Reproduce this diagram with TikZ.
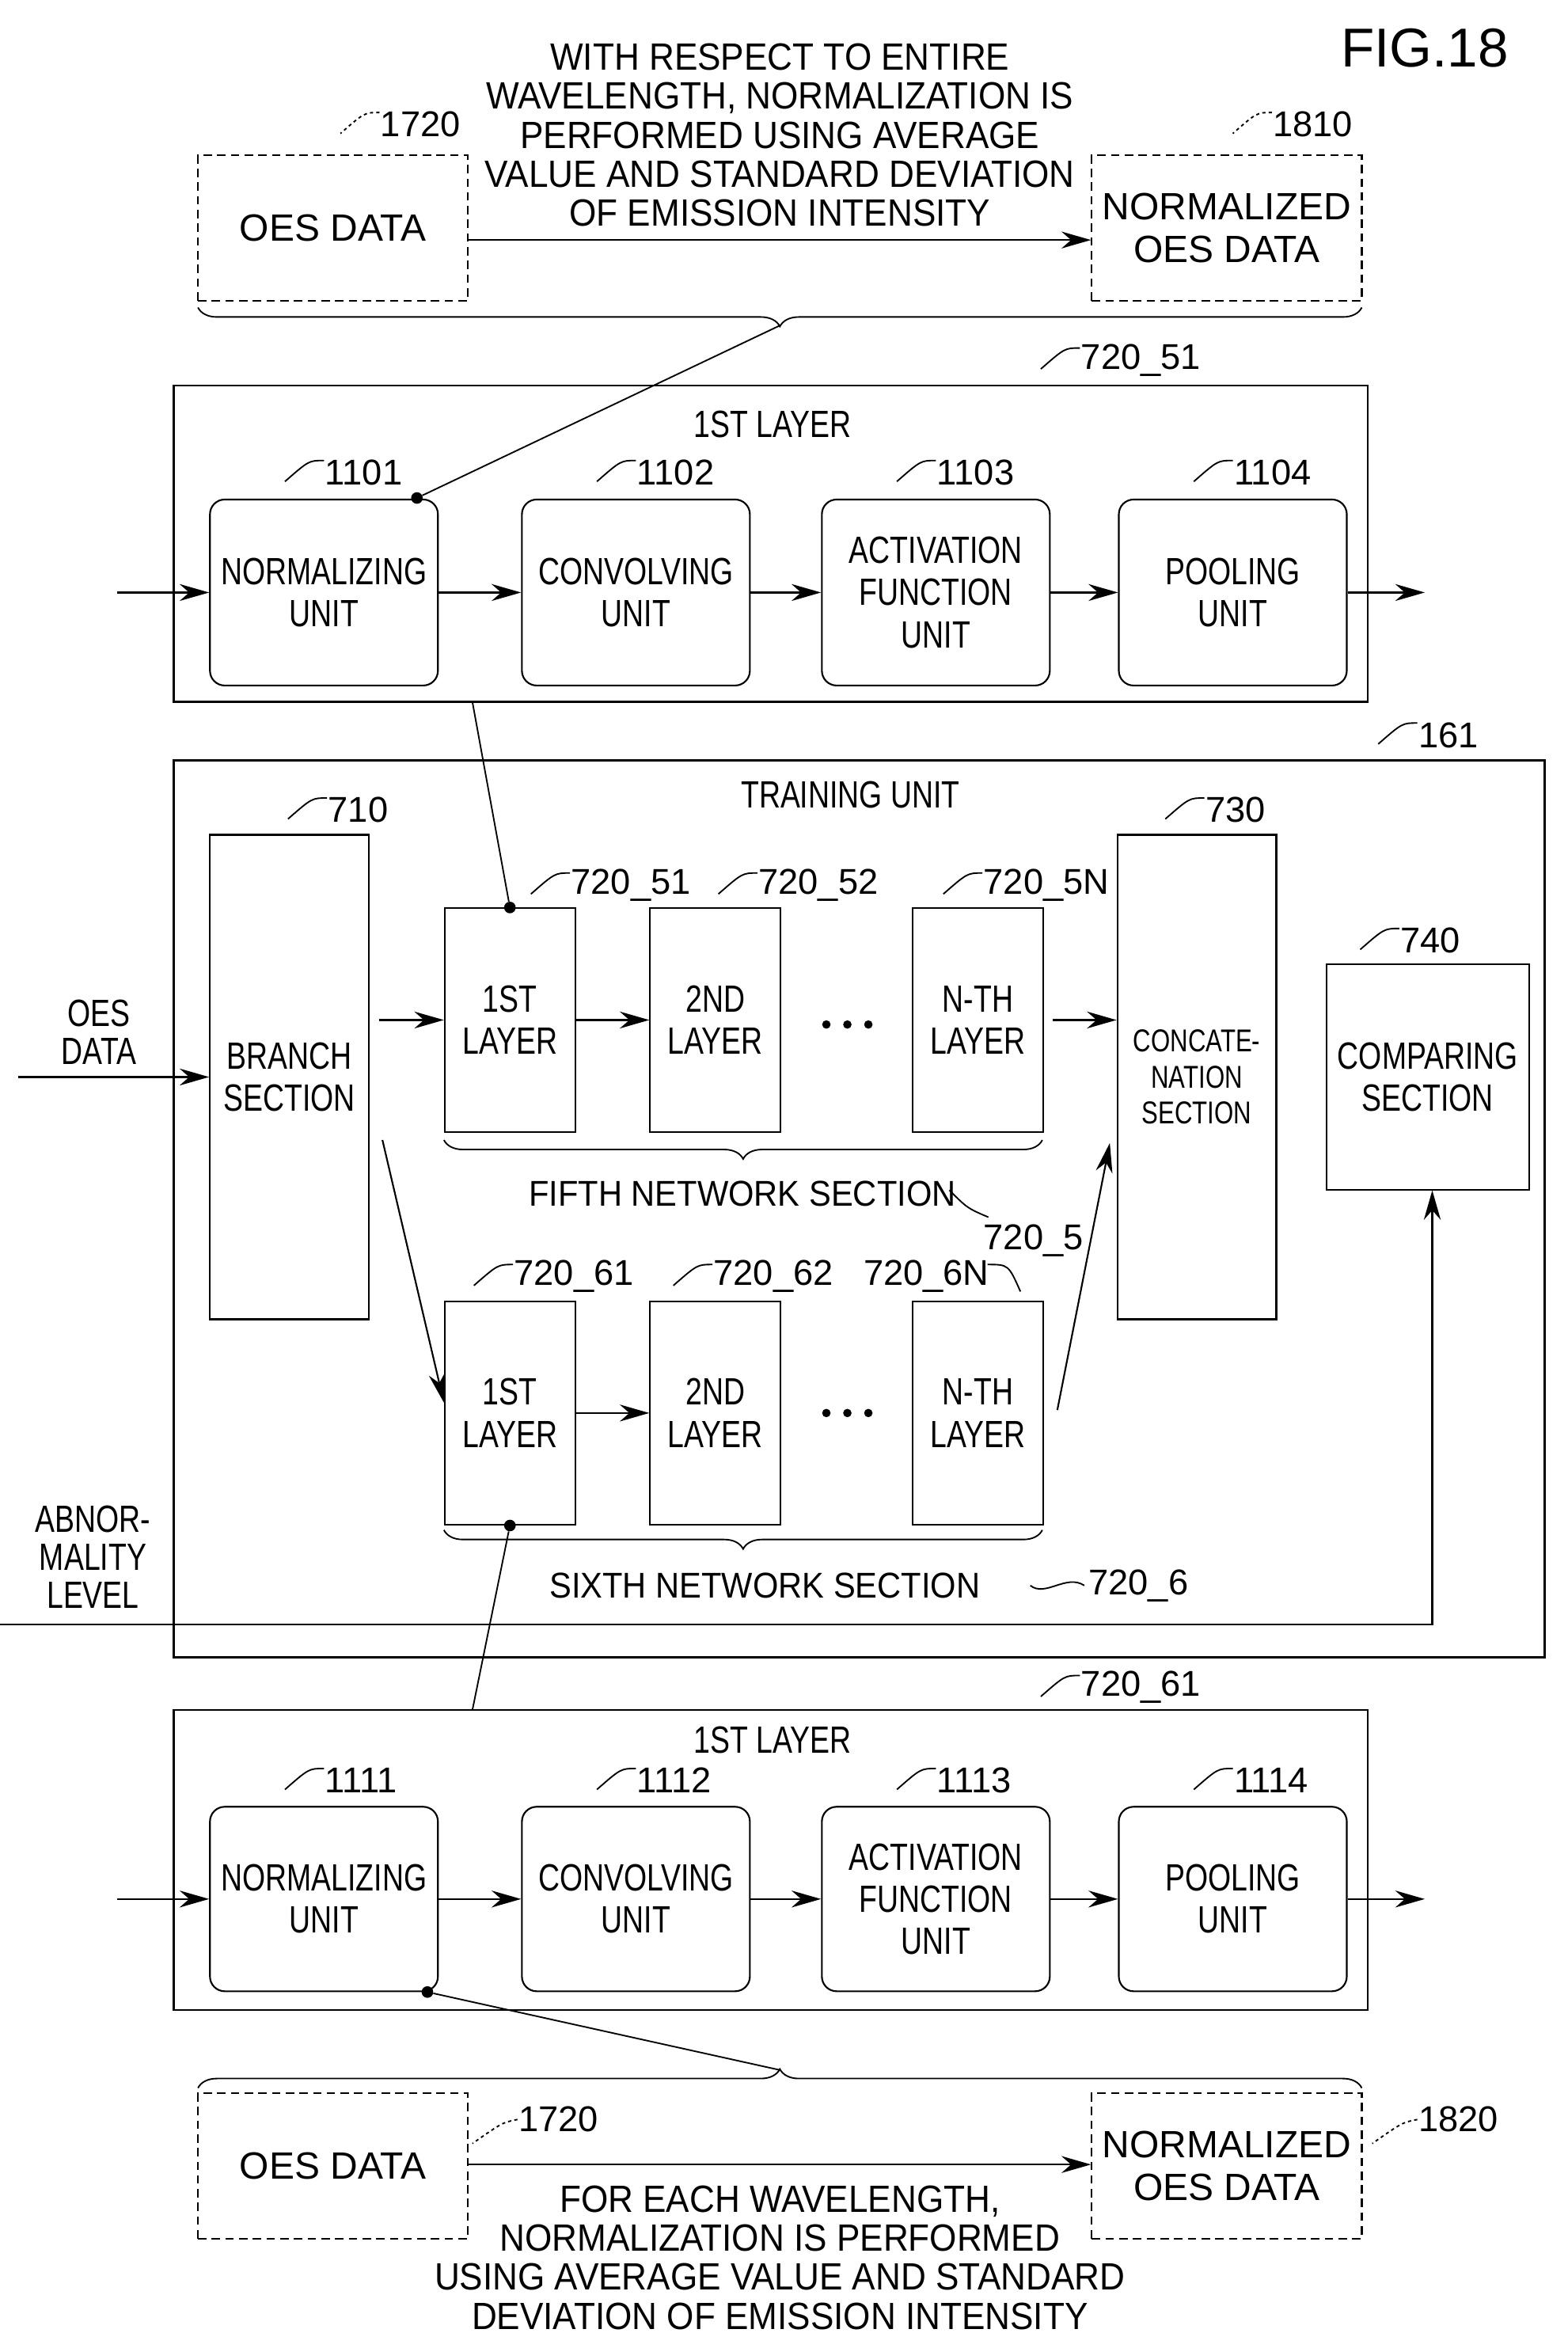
\documentclass[tikz,border=0pt]{standalone}
\usepackage{fontspec}
\setmainfont{Liberation Sans}
\newfontfamily\narrowfont[FakeStretch=0.78]{Liberation Sans}
\newfontfamily\notefont[FakeStretch=0.92]{Liberation Sans}
\usetikzlibrary{decorations.pathreplacing, arrows.meta, calc}
\tikzset{
  unit/.style={draw, line width=1.6pt, rounded corners=14pt, align=center, font=\narrowfont\fontsize{36}{40}\selectfont},
  blk/.style={draw, line width=1.6pt, align=center, font=\narrowfont\fontsize{36}{40}\selectfont},
  dbox/.style={draw, line width=1.6pt, dashed, dash pattern=on 8pt off 5pt, align=center, font=\fontsize{36}{40}\selectfont},
  frame/.style={draw, line width=2pt},
  txt/.style={align=center, font=\narrowfont\fontsize{36}{36}\selectfont},
  note/.style={align=center, font=\notefont\fontsize{36}{37}\selectfont},
  ref/.style={font=\fontsize{34}{36}\selectfont, anchor=west, inner sep=1pt},
  arr/.style={-{Stealth[length=28pt,width=16pt]}, line width=1.6pt},
  ln/.style={line width=1.4pt},
  brace/.style={decorate, decoration={brace, amplitude=18pt}, line width=1.4pt},
  dot/.style={circle, fill, inner sep=0pt, minimum size=11pt},
  ell/.style={circle, fill, inner sep=0pt, minimum size=8pt},
}
% ref label with a small leader stroke
\newcommand\refl[4][]{%
  \node[ref] (#4) at (#2) {#3};
  \draw[ln,#1] (#4.west) ++(0,-8) .. controls ++(-10,0) .. ++(-26,14);}
\begin{document}
\begin{tikzpicture}[x=0.05cm, y=-0.05cm]
\useasboundingbox (0,0) rectangle (1045,1568);
\node[font=\fontsize{52}{56}\selectfont] (fig) at (950,32) {FIG.18};

% ---------- top: normalization over entire wavelength
\node[note] (toptxt) at (520,90) {WITH RESPECT TO ENTIRE\\WAVELENGTH, NORMALIZATION IS\\PERFORMED USING AVERAGE\\VALUE AND STANDARD DEVIATION\\OF EMISSION INTENSITY};
\node[dbox, minimum width=180*0.05cm, minimum height=97*0.05cm] (oes1) at (222,152) {OES DATA};
\node[dbox, minimum width=180*0.05cm, minimum height=97*0.05cm] (nor1) at (818,152) {NORMALIZED\\OES DATA};
\draw[arr] (oes1.east |- 0,160) -- (nor1.west |- 0,160);
\refl[dashed]{253,83}{1720}{r1720a}
\refl[dashed]{848,83}{1810}{r1810}
\draw[brace] (908,205) -- (132,205) coordinate[midway] (bt);

% ---------- 1st layer (fifth network)
\draw[frame] (116,257) rectangle (912,468);
\node[txt] (l1a) at (515,283) {1ST LAYER};
\refl{720,240}{720\_51}{r72051a}
\foreach \n/\x/\t/\r in {nu/216/NORMALIZING\\UNIT/1101, cu/424/CONVOLVING\\UNIT/1102, au/624/ACTIVATION\\FUNCTION\\UNIT/1103, pu/822/POOLING\\UNIT/1104} {
  \node[unit, minimum width=152*0.05cm, minimum height=124*0.05cm] (\n a) at (\x,395) {\t};
  \refl{\x,315}{\r}{r\r}
}
\coordinate (ina) at (78,395);
\coordinate (outa) at (950,395);
\draw[arr] (ina) -- (nua);
\draw[arr] (nua) -- (cua);
\draw[arr] (cua) -- (aua);
\draw[arr] (aua) -- (pua);
\draw[arr] (pua) -- (outa);
\node[dot] (d1) at (278,332) {};
\draw[ln] ($(bt)+(0,12)$) -- (d1);

% ---------- training unit
\draw[frame] (116,507) rectangle (1030,1105);
\node[txt] (tu) at (567,530) {TRAINING UNIT};
\refl{945,490}{161}{r161}
\node[blk, minimum width=106*0.05cm, minimum height=323*0.05cm] (br) at (193,718) {BRANCH\\SECTION};
\refl{218,540}{710}{r710}
\node[blk, minimum width=106*0.05cm, minimum height=323*0.05cm, font=\narrowfont\fontsize{30}{34}\selectfont] (cc) at (798,718) {CONCATE-\\NATION\\SECTION};
\refl{803,540}{730}{r730}
\node[blk, minimum width=135*0.05cm, minimum height=150*0.05cm] (cmp) at (952,718) {COMPARING\\SECTION};
\refl{933,627}{740}{r740}

\foreach \n/\x/\t in {a1/340/1ST, a2/477/2ND, an/652/N-TH} {
  \node[blk, minimum width=87*0.05cm, minimum height=149*0.05cm] (\n) at (\x,680) {\t\\LAYER};
}
\foreach \n/\x/\t in {b1/340/1ST, b2/477/2ND, bn/652/N-TH} {
  \node[blk, minimum width=87*0.05cm, minimum height=149*0.05cm] (\n) at (\x,942) {\t\\LAYER};
}
\refl{380,590}{720\_51}{ra1}
\refl{505,590}{720\_52}{ra2}
\refl{655,590}{720\_5N}{ran}
\refl{342,851}{720\_61}{rb1}
\refl{475,851}{720\_62}{rb2}
\node[ref] (rbn) at (575,851) {720\_6N};
\draw[ln] (rbn.east) ++(-2,-8) .. controls ++(14,0) .. ++(22,18);
\foreach \y/\s in {683/a, 942/b}
  \foreach \x/\k in {551/1, 565/2, 579/3}
    \node[ell] (e\s\k) at (\x,\y) {};

\draw[arr] (br.east |- a1) ++(6,0) -- (a1);
\draw[arr] (a1) -- (a2);
\draw[arr] (an.east) ++(6,0) -- (cc.west |- an);
\draw[arr] (255,760) -- (b1.north west |- 0,935);
\draw[arr] (b1) -- (b2);
\draw[arr] (705,940) -- (740,762);
\draw[arr] (12,718) -- (br);
\node[txt] (oesin) at (66,688) {OES\\DATA};

\draw[brace] (695,760) -- (296,760);
\node[note, font=\notefont\fontsize{34}{36}\selectfont] (fifth) at (495,796) {FIFTH NETWORK SECTION};
\node[ref] (r7205) at (655,827) {720\_5};
\draw[ln] (r7205.north west) ++(4,-4) .. controls ++(-14,-6) .. ++(-26,-18);
\draw[brace] (695,1020) -- (296,1020);
\node[note, font=\notefont\fontsize{34}{36}\selectfont] (sixth) at (510,1057) {SIXTH NETWORK SECTION};
\node[ref] (r7206) at (725,1057) {720\_6};
\draw[ln] (r7206.west) ++(-2,0) .. controls ++(-12,-8) and ++(10,8) .. ++(-36,0);

\node[txt] (abn) at (62,1038) {ABNOR-\\MALITY\\LEVEL};
\coordinate (abs) at (0,1083);
\draw[arr] (abs) -- (955,1083) -- (cmp.south -| 955,0);

\node[dot] (d2) at (340,605) {};
\draw[ln] (315,468) -- (d2);
\node[dot] (d3) at (340,1017) {};
\draw[ln] (d3) -- (315,1140);

% ---------- 1st layer (sixth network)
\draw[frame] (116,1140) rectangle (912,1340);
\node[txt] (l1b) at (515,1160) {1ST LAYER};
\refl{720,1125}{720\_61}{r72061b}
\foreach \n/\x/\t/\r in {nu/216/NORMALIZING\\UNIT/1111, cu/424/CONVOLVING\\UNIT/1112, au/624/ACTIVATION\\FUNCTION\\UNIT/1113, pu/822/POOLING\\UNIT/1114} {
  \node[unit, minimum width=152*0.05cm, minimum height=123*0.05cm] (\n b) at (\x,1266) {\t};
  \refl{\x,1187}{\r}{r\r}
}
\coordinate (inb) at (78,1266);
\coordinate (outb) at (950,1266);
\draw[arr] (inb) -- (nub);
\draw[arr] (nub) -- (cub);
\draw[arr] (cub) -- (aub);
\draw[arr] (aub) -- (pub);
\draw[arr] (pub) -- (outb);
\node[dot] (d4) at (285,1328) {};

% ---------- bottom: normalization for each wavelength
\draw[brace] (132,1392) -- (908,1392) coordinate[midway] (bb);
\draw[ln] (d4) -- ($(bb)+(0,-12)$);
\node[dbox, minimum width=180*0.05cm, minimum height=97*0.05cm] (oes2) at (222,1444) {OES DATA};
\node[dbox, minimum width=180*0.05cm, minimum height=97*0.05cm] (nor2) at (818,1444) {NORMALIZED\\OES DATA};
\draw[arr] (oes2.east |- 0,1443) -- (nor2.west |- 0,1443);
\node[ref] (r1720b) at (345,1413) {1720};
\draw[ln, dashed] (r1720b.west) .. controls ++(-10,2) .. ++(-30,16);
\node[ref] (r1820) at (945,1413) {1820};
\draw[ln, dashed] (r1820.west) .. controls ++(-10,2) .. ++(-30,16);
\node[note] (bottxt) at (520,1505) {FOR EACH WAVELENGTH,\\NORMALIZATION IS PERFORMED\\USING AVERAGE VALUE AND STANDARD\\DEVIATION OF EMISSION INTENSITY};
\end{tikzpicture}
\end{document}
